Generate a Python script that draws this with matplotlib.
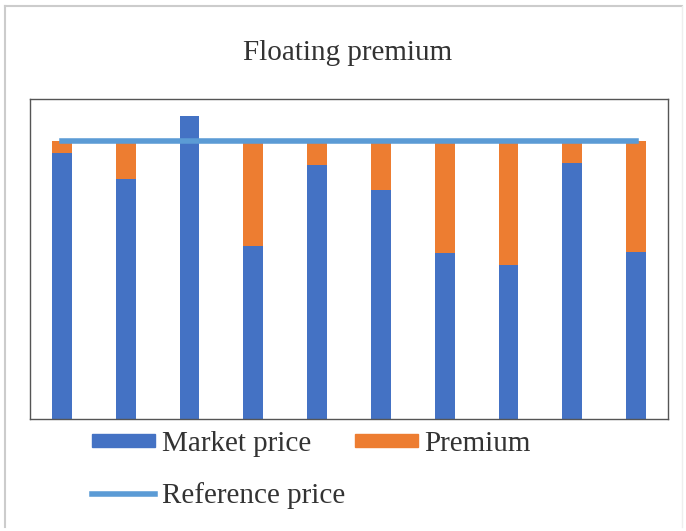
import matplotlib.pyplot as plt
from matplotlib.lines import Line2D
import numpy as np

plt.rcParams['font.family'] = ['Liberation Serif', 'DejaVu Serif']

periods = list(range(1, 11))
market_price = [95.6, 86.2, 108.9, 62.2, 91.3, 82.3, 59.6, 55.3, 92.0, 60.0]
reference_price = [100] * 10
premium = [max(r - m, 0) for r, m in zip(reference_price, market_price)]

blue = '#4472C4'
orange = '#ED7D31'
light_blue = '#5B9BD5'

fig = plt.figure(figsize=(6.86, 5.31), dpi=100)
ax = fig.add_axes([30 / 686, 1 - 419 / 531, 638 / 686, 320 / 531])

x = np.arange(len(periods))
ax.bar(x, market_price, width=0.31, color=blue, label='Market price', zorder=2)
ax.bar(x, premium, width=0.31, bottom=market_price, color=orange, label='Premium', zorder=2)
ax.plot(x, reference_price, color=light_blue, lw=4, label='Reference price', zorder=3)

ax.set_xlim(-0.5, 9.5)
ax.set_ylim(0, 115)
ax.set_xticks([])
ax.set_yticks([])
for s in ax.spines.values():
    s.set_color('#555555')
    s.set_linewidth(1.0)

fig.text(348 / 686, 1 - 53 / 531, 'Floating premium', ha='center', va='center',
         fontsize=21, color='#333333')

# legend: row 1 Market price / Premium, row 2 Reference price
h_market = plt.Rectangle((0, 0), 1, 1, color=blue)
h_prem = plt.Rectangle((0, 0), 1, 1, color=orange)
h_ref = Line2D([], [], color=light_blue, lw=4)
fig.legend([h_market, h_ref, h_prem], ['Market price', 'Reference price', 'Premium'],
           ncol=2, loc='upper left', bbox_to_anchor=(92 / 686, 1 - 431 / 531),
           frameon=False, fontsize=21, handlelength=2.15, handleheight=0.35,
           handletextpad=0.24, columnspacing=0.34, labelspacing=0.85,
           borderpad=0, borderaxespad=0, labelcolor='#333333')

# outer frame of the chart area
fig.add_artist(Line2D([5 / 686, 5 / 686], [4 / 531, 1 - 6 / 531], color='#cccccc', lw=1.5))
fig.add_artist(Line2D([5 / 686, 682 / 686], [1 - 6 / 531, 1 - 6 / 531], color='#cccccc', lw=1.5))
fig.add_artist(Line2D([682 / 686, 682 / 686], [4 / 531, 1 - 6 / 531], color='#eeeeee', lw=1))

fig.savefig('out.png', dpi=100)
